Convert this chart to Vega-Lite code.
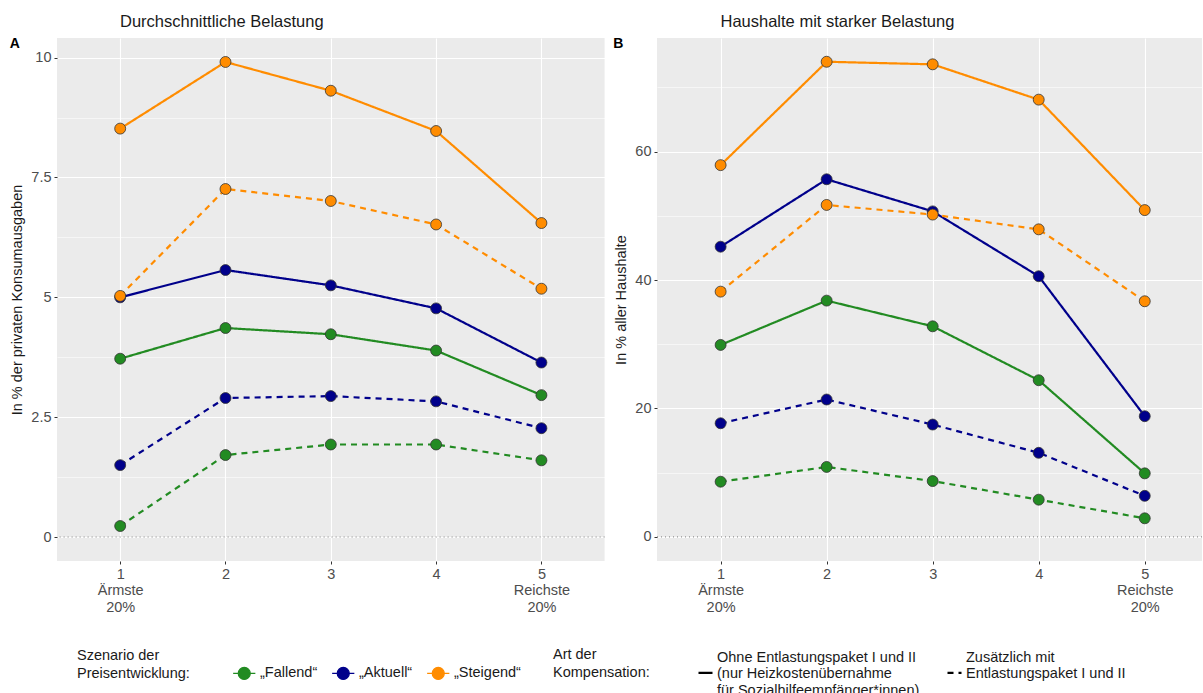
{
  "$schema": "https://vega.github.io/schema/vega-lite/v6.json",
  "background": "white",
  "padding": {"left": 9, "top": 13, "right": 0, "bottom": 0},
  "datasets": {
    "belastung": [
      {"panel": "A", "szenario": "„Fallend“", "kompensation": "Ohne Entlastungspaket I und II", "quintil": 1, "wert": 3.72},
      {"panel": "A", "szenario": "„Fallend“", "kompensation": "Ohne Entlastungspaket I und II", "quintil": 2, "wert": 4.36},
      {"panel": "A", "szenario": "„Fallend“", "kompensation": "Ohne Entlastungspaket I und II", "quintil": 3, "wert": 4.23},
      {"panel": "A", "szenario": "„Fallend“", "kompensation": "Ohne Entlastungspaket I und II", "quintil": 4, "wert": 3.89},
      {"panel": "A", "szenario": "„Fallend“", "kompensation": "Ohne Entlastungspaket I und II", "quintil": 5, "wert": 2.96},
      {"panel": "A", "szenario": "„Fallend“", "kompensation": "Zusätzlich mit Entlastungspaket I und II", "quintil": 1, "wert": 0.23},
      {"panel": "A", "szenario": "„Fallend“", "kompensation": "Zusätzlich mit Entlastungspaket I und II", "quintil": 2, "wert": 1.71},
      {"panel": "A", "szenario": "„Fallend“", "kompensation": "Zusätzlich mit Entlastungspaket I und II", "quintil": 3, "wert": 1.93},
      {"panel": "A", "szenario": "„Fallend“", "kompensation": "Zusätzlich mit Entlastungspaket I und II", "quintil": 4, "wert": 1.93},
      {"panel": "A", "szenario": "„Fallend“", "kompensation": "Zusätzlich mit Entlastungspaket I und II", "quintil": 5, "wert": 1.6},
      {"panel": "A", "szenario": "„Aktuell“", "kompensation": "Ohne Entlastungspaket I und II", "quintil": 1, "wert": 5.0},
      {"panel": "A", "szenario": "„Aktuell“", "kompensation": "Ohne Entlastungspaket I und II", "quintil": 2, "wert": 5.57},
      {"panel": "A", "szenario": "„Aktuell“", "kompensation": "Ohne Entlastungspaket I und II", "quintil": 3, "wert": 5.25},
      {"panel": "A", "szenario": "„Aktuell“", "kompensation": "Ohne Entlastungspaket I und II", "quintil": 4, "wert": 4.77},
      {"panel": "A", "szenario": "„Aktuell“", "kompensation": "Ohne Entlastungspaket I und II", "quintil": 5, "wert": 3.64},
      {"panel": "A", "szenario": "„Aktuell“", "kompensation": "Zusätzlich mit Entlastungspaket I und II", "quintil": 1, "wert": 1.5},
      {"panel": "A", "szenario": "„Aktuell“", "kompensation": "Zusätzlich mit Entlastungspaket I und II", "quintil": 2, "wert": 2.9},
      {"panel": "A", "szenario": "„Aktuell“", "kompensation": "Zusätzlich mit Entlastungspaket I und II", "quintil": 3, "wert": 2.94},
      {"panel": "A", "szenario": "„Aktuell“", "kompensation": "Zusätzlich mit Entlastungspaket I und II", "quintil": 4, "wert": 2.83},
      {"panel": "A", "szenario": "„Aktuell“", "kompensation": "Zusätzlich mit Entlastungspaket I und II", "quintil": 5, "wert": 2.27},
      {"panel": "A", "szenario": "„Steigend“", "kompensation": "Ohne Entlastungspaket I und II", "quintil": 1, "wert": 8.52},
      {"panel": "A", "szenario": "„Steigend“", "kompensation": "Ohne Entlastungspaket I und II", "quintil": 2, "wert": 9.91},
      {"panel": "A", "szenario": "„Steigend“", "kompensation": "Ohne Entlastungspaket I und II", "quintil": 3, "wert": 9.31},
      {"panel": "A", "szenario": "„Steigend“", "kompensation": "Ohne Entlastungspaket I und II", "quintil": 4, "wert": 8.47},
      {"panel": "A", "szenario": "„Steigend“", "kompensation": "Ohne Entlastungspaket I und II", "quintil": 5, "wert": 6.55},
      {"panel": "A", "szenario": "„Steigend“", "kompensation": "Zusätzlich mit Entlastungspaket I und II", "quintil": 1, "wert": 5.03},
      {"panel": "A", "szenario": "„Steigend“", "kompensation": "Zusätzlich mit Entlastungspaket I und II", "quintil": 2, "wert": 7.26},
      {"panel": "A", "szenario": "„Steigend“", "kompensation": "Zusätzlich mit Entlastungspaket I und II", "quintil": 3, "wert": 7.01},
      {"panel": "A", "szenario": "„Steigend“", "kompensation": "Zusätzlich mit Entlastungspaket I und II", "quintil": 4, "wert": 6.52},
      {"panel": "A", "szenario": "„Steigend“", "kompensation": "Zusätzlich mit Entlastungspaket I und II", "quintil": 5, "wert": 5.18},
      {"panel": "B", "szenario": "„Fallend“", "kompensation": "Ohne Entlastungspaket I und II", "quintil": 1, "wert": 29.9},
      {"panel": "B", "szenario": "„Fallend“", "kompensation": "Ohne Entlastungspaket I und II", "quintil": 2, "wert": 36.8},
      {"panel": "B", "szenario": "„Fallend“", "kompensation": "Ohne Entlastungspaket I und II", "quintil": 3, "wert": 32.8},
      {"panel": "B", "szenario": "„Fallend“", "kompensation": "Ohne Entlastungspaket I und II", "quintil": 4, "wert": 24.4},
      {"panel": "B", "szenario": "„Fallend“", "kompensation": "Ohne Entlastungspaket I und II", "quintil": 5, "wert": 9.9},
      {"panel": "B", "szenario": "„Fallend“", "kompensation": "Zusätzlich mit Entlastungspaket I und II", "quintil": 1, "wert": 8.6},
      {"panel": "B", "szenario": "„Fallend“", "kompensation": "Zusätzlich mit Entlastungspaket I und II", "quintil": 2, "wert": 10.9},
      {"panel": "B", "szenario": "„Fallend“", "kompensation": "Zusätzlich mit Entlastungspaket I und II", "quintil": 3, "wert": 8.7},
      {"panel": "B", "szenario": "„Fallend“", "kompensation": "Zusätzlich mit Entlastungspaket I und II", "quintil": 4, "wert": 5.8},
      {"panel": "B", "szenario": "„Fallend“", "kompensation": "Zusätzlich mit Entlastungspaket I und II", "quintil": 5, "wert": 2.9},
      {"panel": "B", "szenario": "„Aktuell“", "kompensation": "Ohne Entlastungspaket I und II", "quintil": 1, "wert": 45.2},
      {"panel": "B", "szenario": "„Aktuell“", "kompensation": "Ohne Entlastungspaket I und II", "quintil": 2, "wert": 55.7},
      {"panel": "B", "szenario": "„Aktuell“", "kompensation": "Ohne Entlastungspaket I und II", "quintil": 3, "wert": 50.7},
      {"panel": "B", "szenario": "„Aktuell“", "kompensation": "Ohne Entlastungspaket I und II", "quintil": 4, "wert": 40.6},
      {"panel": "B", "szenario": "„Aktuell“", "kompensation": "Ohne Entlastungspaket I und II", "quintil": 5, "wert": 18.8},
      {"panel": "B", "szenario": "„Aktuell“", "kompensation": "Zusätzlich mit Entlastungspaket I und II", "quintil": 1, "wert": 17.7},
      {"panel": "B", "szenario": "„Aktuell“", "kompensation": "Zusätzlich mit Entlastungspaket I und II", "quintil": 2, "wert": 21.4},
      {"panel": "B", "szenario": "„Aktuell“", "kompensation": "Zusätzlich mit Entlastungspaket I und II", "quintil": 3, "wert": 17.5},
      {"panel": "B", "szenario": "„Aktuell“", "kompensation": "Zusätzlich mit Entlastungspaket I und II", "quintil": 4, "wert": 13.1},
      {"panel": "B", "szenario": "„Aktuell“", "kompensation": "Zusätzlich mit Entlastungspaket I und II", "quintil": 5, "wert": 6.4},
      {"panel": "B", "szenario": "„Steigend“", "kompensation": "Ohne Entlastungspaket I und II", "quintil": 1, "wert": 57.9},
      {"panel": "B", "szenario": "„Steigend“", "kompensation": "Ohne Entlastungspaket I und II", "quintil": 2, "wert": 74.0},
      {"panel": "B", "szenario": "„Steigend“", "kompensation": "Ohne Entlastungspaket I und II", "quintil": 3, "wert": 73.6},
      {"panel": "B", "szenario": "„Steigend“", "kompensation": "Ohne Entlastungspaket I und II", "quintil": 4, "wert": 68.1},
      {"panel": "B", "szenario": "„Steigend“", "kompensation": "Ohne Entlastungspaket I und II", "quintil": 5, "wert": 50.9},
      {"panel": "B", "szenario": "„Steigend“", "kompensation": "Zusätzlich mit Entlastungspaket I und II", "quintil": 1, "wert": 38.2},
      {"panel": "B", "szenario": "„Steigend“", "kompensation": "Zusätzlich mit Entlastungspaket I und II", "quintil": 2, "wert": 51.7},
      {"panel": "B", "szenario": "„Steigend“", "kompensation": "Zusätzlich mit Entlastungspaket I und II", "quintil": 3, "wert": 50.2},
      {"panel": "B", "szenario": "„Steigend“", "kompensation": "Zusätzlich mit Entlastungspaket I und II", "quintil": 4, "wert": 47.9},
      {"panel": "B", "szenario": "„Steigend“", "kompensation": "Zusätzlich mit Entlastungspaket I und II", "quintil": 5, "wert": 36.7}
    ]
  },
  "data": {"name": "belastung"},
  "spacing": 7,
  "resolve": {
    "scale": {"color": "shared", "strokeDash": "shared"},
    "legend": {"color": "shared", "strokeDash": "shared"}
  },
  "hconcat": [
    {
      "width": 547.6,
      "height": 523,
      "title": {"text": "Durchschnittliche Belastung", "dx": 63},
      "layer": [
        {
          "data": {"values": [{"wert": 0}]},
          "mark": {"type": "rule", "strokeDash": [1, 3], "color": "#7a7a7a", "strokeWidth": 1},
          "encoding": {"y": {"field": "wert", "type": "quantitative"}}
        },
        {
          "transform": [{"filter": "datum.panel === 'A'"}],
          "mark": {"type": "line", "strokeWidth": 2.2},
          "encoding": {
            "x": {
              "field": "quintil", "type": "quantitative",
              "scale": {"domain": [0.4, 5.6], "nice": false, "zero": false},
              "axis": {
                "values": [1, 2, 3, 4, 5], "title": null, "labelFlush": false, "labelOverlap": false,
                "labelExpr": "datum.value === 1 ? ['1', 'Ärmste', '20%'] : datum.value === 5 ? ['5', 'Reichste', '20%'] : '' + datum.value",
                "labelLineHeight": 16.5
              }
            },
            "y": {
              "field": "wert", "type": "quantitative",
              "scale": {"domain": [-0.5, 10.41], "nice": false, "zero": false},
              "axis": {
                "values": [0, 1.25, 2.5, 3.75, 5, 6.25, 7.5, 8.75, 10],
                "title": "In % der privaten Konsumausgaben",
                "labelOverlap": false,
                "labelExpr": "datum.value % 2.5 === 0 ? '' + datum.value : ''",
                "gridWidth": {"condition": {"test": "datum.value % 2.5 !== 0", "value": 0.55}, "value": 1.1},
                "tickOpacity": {"condition": {"test": "datum.value % 2.5 !== 0", "value": 0}, "value": 1}
              }
            },
            "color": {
              "field": "szenario", "type": "nominal",
              "scale": {"domain": ["„Fallend“", "„Aktuell“", "„Steigend“"], "range": ["#228B22", "#00008B", "#FF8C00"]},
              "legend": {
                "title": ["Szenario der", "Preisentwicklung:", ""], "orient": "none", "legendX": 20, "legendY": 628,
                "direction": "horizontal", "titleOrient": "left", "titlePadding": 47,
                "symbolType": "M-1.85,0H-1M1,0H1.85M1,0A1,1,0,1,1,-1,0A1,1,0,1,1,1,0Z",
                "symbolSize": 144, "symbolStrokeWidth": 1.2,
                "symbolOpacity": 1, "labelOffset": 8.5, "columnPadding": 11
              }
            },
            "strokeDash": {
              "field": "kompensation", "type": "nominal",
              "scale": {"domain": ["Ohne Entlastungspaket I und II", "Zusätzlich mit Entlastungspaket I und II"], "range": [[1, 0], [6, 5]]},
              "legend": {
                "title": ["Art der", "Kompensation:", ""], "orient": "none", "legendX": 496, "legendY": 611,
                "direction": "horizontal", "titleOrient": "left", "titlePadding": 47,
                "symbolType": "M-1,2.2L1,2.2", "symbolStrokeColor": "black", "symbolStrokeWidth": 2.2, "symbolSize": 196,
                "labelOffset": 3, "columnPadding": 23,
                "labelExpr": "indexof(datum.value, 'Ohne') === 0 ? ['Ohne Entlastungspaket I und II', '(nur Heizkostenübernahme', 'für Sozialhilfeempfänger*innen)'] : ['Zusätzlich mit', 'Entlastungspaket I und II', '']"
              }
            }
          }
        },
        {
          "transform": [{"filter": "datum.panel === 'A'"}],
          "mark": {"type": "point", "shape": "circle", "filled": true, "size": 120, "stroke": "#333333", "strokeWidth": 0.8, "opacity": 1},
          "encoding": {
            "x": {"field": "quintil", "type": "quantitative"},
            "y": {"field": "wert", "type": "quantitative"},
            "color": {"field": "szenario", "type": "nominal"}
          }
        },
        {
          "data": {"values": [{"panel": "A"}]},
          "mark": {"type": "text", "fontWeight": "bold", "fontSize": 14, "color": "black", "align": "center", "baseline": "middle"},
          "encoding": {
            "x": {"datum": 0.0, "type": "quantitative"},
            "y": {"datum": 10.28, "type": "quantitative"},
            "text": {"field": "panel"}
          }
        }
      ]
    },
    {
      "width": 545,
      "height": 523,
      "title": {"text": "Haushalte mit starker Belastung", "dx": 63.5},
      "layer": [
        {
          "data": {"values": [{"wert": 0}]},
          "mark": {"type": "rule", "strokeDash": [1, 3], "color": "#7a7a7a", "strokeWidth": 1},
          "encoding": {"y": {"field": "wert", "type": "quantitative"}}
        },
        {
          "transform": [{"filter": "datum.panel === 'B'"}],
          "mark": {"type": "line", "strokeWidth": 2.2},
          "encoding": {
            "x": {
              "field": "quintil", "type": "quantitative",
              "scale": {"domain": [0.4, 5.54], "nice": false, "zero": false},
              "axis": {
                "values": [1, 2, 3, 4, 5], "title": null, "labelFlush": false, "labelOverlap": false,
                "labelExpr": "datum.value === 1 ? ['1', 'Ärmste', '20%'] : datum.value === 5 ? ['5', 'Reichste', '20%'] : '' + datum.value",
                "labelLineHeight": 16.5
              }
            },
            "y": {
              "field": "wert", "type": "quantitative",
              "scale": {"domain": [-3.75, 77.7], "nice": false, "zero": false},
              "axis": {
                "values": [0, 10, 20, 30, 40, 50, 60, 70],
                "title": "In % aller Haushalte",
                "labelOverlap": false,
                "labelExpr": "datum.value % 20 === 0 ? '' + datum.value : ''",
                "gridWidth": {"condition": {"test": "datum.value % 20 !== 0", "value": 0.55}, "value": 1.1},
                "tickOpacity": {"condition": {"test": "datum.value % 20 !== 0", "value": 0}, "value": 1}
              }
            },
            "color": {
              "field": "szenario", "type": "nominal",
              "scale": {"domain": ["„Fallend“", "„Aktuell“", "„Steigend“"], "range": ["#228B22", "#00008B", "#FF8C00"]}
            },
            "strokeDash": {
              "field": "kompensation", "type": "nominal",
              "scale": {"domain": ["Ohne Entlastungspaket I und II", "Zusätzlich mit Entlastungspaket I und II"], "range": [[1, 0], [6, 5]]}
            }
          }
        },
        {
          "transform": [{"filter": "datum.panel === 'B'"}],
          "mark": {"type": "point", "shape": "circle", "filled": true, "size": 120, "stroke": "#333333", "strokeWidth": 0.8, "opacity": 1},
          "encoding": {
            "x": {"field": "quintil", "type": "quantitative"},
            "y": {"field": "wert", "type": "quantitative"},
            "color": {"field": "szenario", "type": "nominal"}
          }
        },
        {
          "data": {"values": [{"panel": "B"}]},
          "mark": {"type": "text", "fontWeight": "bold", "fontSize": 14, "color": "black", "align": "center", "baseline": "middle"},
          "encoding": {
            "x": {"datum": 0.035, "type": "quantitative"},
            "y": {"datum": 76.7, "type": "quantitative"},
            "text": {"field": "panel"}
          }
        }
      ]
    }
  ],
  "config": {
    "font": "Liberation Sans",
    "view": {"fill": "#EBEBEB", "stroke": null},
    "axis": {
      "domain": false,
      "gridColor": "#FFFFFF",
      "gridWidth": 1.1,
      "tickColor": "#333333",
      "tickSize": 3,
      "tickWidth": 1,
      "labelColor": "#4D4D4D",
      "labelFontSize": 14.5,
      "labelPadding": 3,
      "titleFontSize": 14.5,
      "titleFontWeight": "normal",
      "titleColor": "#1A1A1A",
      "titlePadding": 6.5
    },
    "legend": {
      "labelFontSize": 14.5,
      "titleFontSize": 14.5,
      "titleFontWeight": "normal",
      "labelColor": "#1A1A1A",
      "titleColor": "#1A1A1A",
      "titleLineHeight": 18,
      "labelLineHeight": 18,
      "labelLimit": 400,
      "titleLimit": 400
    },
    "title": {
      "fontSize": 16.5,
      "fontWeight": "normal",
      "color": "#1A1A1A",
      "anchor": "start",
      "frame": "group",
      "offset": 7
    }
  }
}
